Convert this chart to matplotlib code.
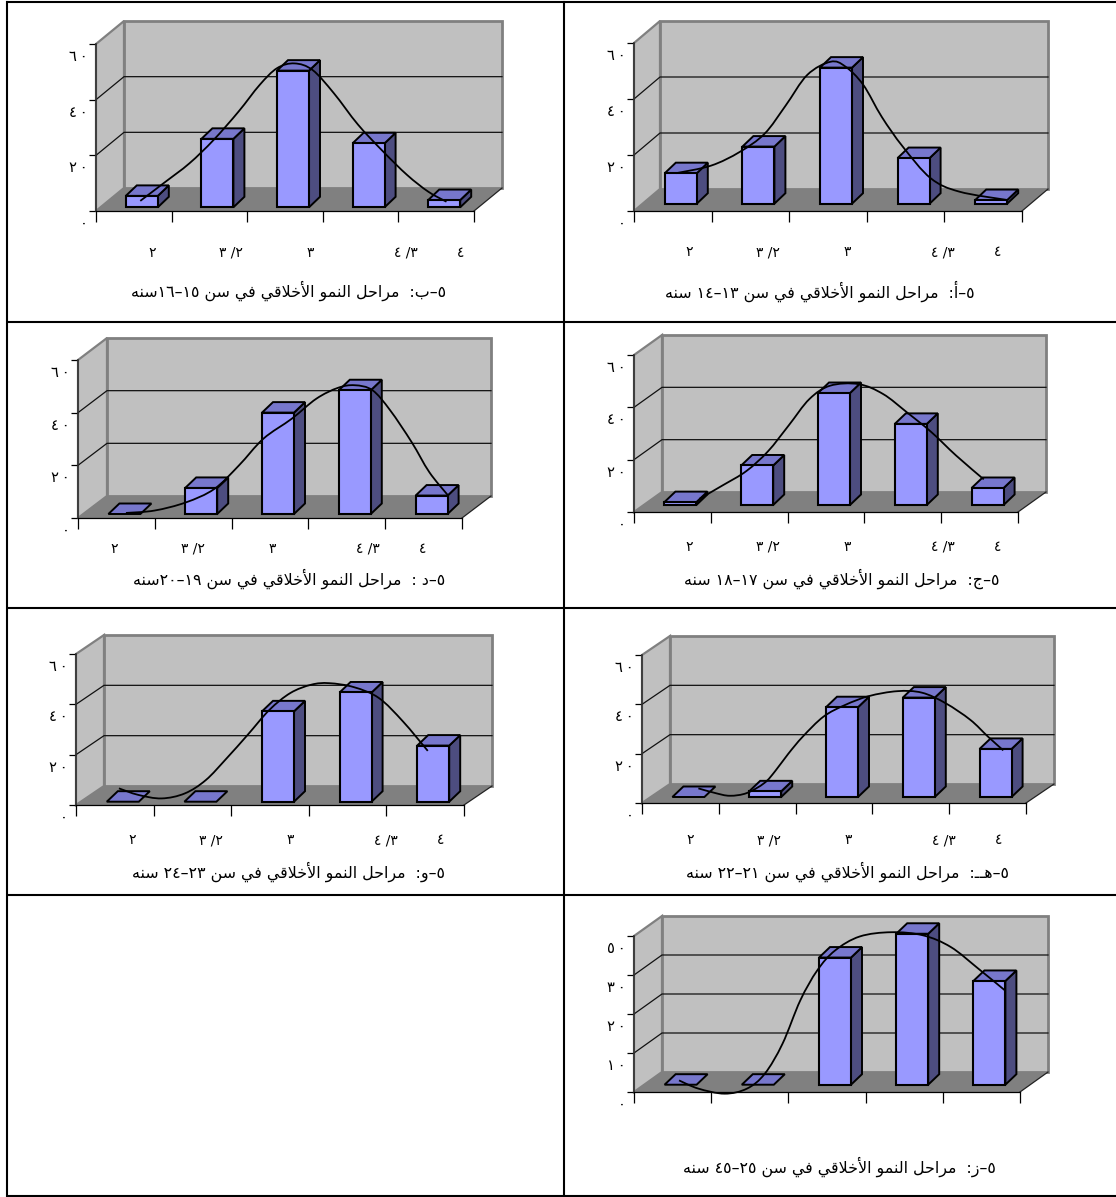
import re
import unicodedata
import numpy as np
from matplotlib import pyplot as plt
from matplotlib.path import Path
from matplotlib.patches import PathPatch
from matplotlib.transforms import ScaledTranslation

W, H = 1116, 1197

categories = ["٢", "٣ /٢", "٣", "٤ /٣", "٤"]
ticks_60 = [0, 20, 40, 60]
ticks_40 = [0, 10, 20, 30, 40]
ticklabels_60 = ["٠", "٢\u2009٠", "٤\u2009٠", "٦\u2009٠"]
ticklabels_40 = ["٠", "١\u2009٠", "٢\u2009٠", "٣\u2009٠", "٥\u2009٠"]

values_a = [10.9, 20.4, 48.6, 16.3, 1.3]
curve_x_a = [.94, 1.39, 1.76, 2.08, 2.35, 2.63, 2.93, 3.12, 3.35, 3.59, 3.86, 4.22, 4.59, 5.21]
curve_y_a = [10.9, 13.6, 18.5, 25, 35, 46, 50.7, 49, 42.5, 31, 20.4, 9.1, 4.3, 1.3]

values_b = [4.1, 24.6, 49.1, 23, 2.6]
curve_x_b = [.98, 1.3, 1.63, 1.95, 2.28, 2.56, 2.79, 3.02, 3.26, 3.54, 3.86, 4.19, 4.51, 4.79, 5.03]
curve_y_b = [2.3, 8.9, 15.8, 24.2, 34.4, 44, 50, 51.7, 49.3, 41, 29.7, 20.1, 11.6, 5.6, 2]

values_c = [1.1, 15.1, 42.8, 31, 6.5]
curve_x_c = [1.25, 1.55, 1.86, 2.14, 2.41, 2.68, 2.95, 3.32, 3.64, 3.95, 4.27, 4.59, 4.95]
curve_y_c = [2.4, 7.5, 13, 20.5, 30.4, 40.5, 45.6, 46.2, 42.4, 35.4, 27.8, 18.9, 9.8]

values_d = [0, 9.9, 38.5, 47, 7]
curve_x_d = [1.02, 1.39, 1.8, 2.17, 2.49, 2.81, 3.18, 3.5, 3.78, 4, 4.23, 4.46, 4.74, 4.97, 5.21]
curve_y_d = [.4, 1.3, 4.4, 9.5, 18.4, 28.6, 36.2, 43.8, 47.9, 48.9, 47, 39.4, 27.3, 15.9, 7.2]

values_e = [0, 2.3, 36.4, 40.3, 19.5]
curve_x_e = [1.13, 1.35, 1.54, 1.76, 1.99, 2.13, 2.3, 2.49, 2.76, 3.04, 3.35, 3.72, 4.04, 4.35, 4.67, 4.9, 5.1]
curve_y_e = [3.5, 1.6, .5, 1.6, 5.7, 10.5, 17.5, 24.5, 32.6, 37.3, 40.9, 42.9, 42.3, 38, 31.3, 24.5, 18.9]

values_f = [0, 0, 35.9, 43.4, 22.3]
curve_x_f = [.95, 1.2, 1.5, 1.8, 2.07, 2.34, 2.61, 2.89, 3.16, 3.43, 3.66, 3.98, 4.3, 4.61, 4.93]
curve_y_f = [5.3, 2.7, 1.3, 3.3, 8.6, 17.3, 26.6, 36.5, 43.2, 46.5, 47.1, 45.5, 41.2, 31.9, 20.2]

values_g = [0, 0, 32.6, 38.7, 26.6]
curve_x_g = [.98, 1.23, 1.57, 1.86, 2.09, 2.32, 2.55, 2.77, 3, 3.32, 3.73, 4.14, 4.5, 4.86, 5.2]
curve_y_g = [1.1, -1, -2.3, -1, 2.8, 10.5, 21.6, 29.3, 34.4, 38, 39.1, 38.3, 35.3, 29.7, 24.2]

caption_a = "٥–أ:  مراحل النمو الأخلاقي في سن ١٣–١٤ سنه"
caption_b = "٥–ب:  مراحل النمو الأخلاقي في سن ١٥–١٦سنه"
caption_c = "٥–ج:  مراحل النمو الأخلاقي في سن ١٧–١٨ سنه"
caption_d = "٥–د :  مراحل النمو الأخلاقي في سن ١٩–٢٠سنه"
caption_e = "٥–هــ:  مراحل النمو الأخلاقي في سن ٢١–٢٢ سنه"
caption_f = "٥–و:  مراحل النمو الأخلاقي في سن ٢٣–٢٤ سنه"
caption_g = "٥–ز:  مراحل النمو الأخلاقي في سن ٢٥–٤٥ سنه"

RIGHT_ONLY = "اأدذرزو"


def is_arabic(c):
    return "\u0621" <= c <= "\u064a"


# matplotlib does no arabic shaping, so pick the presentation forms here
def shape(s):
    out = []
    i = 0
    while i < len(s):
        c = s[i]
        prev = s[i - 1] if i > 0 else " "
        nxt = s[i + 1] if i + 1 < len(s) else " "
        left = is_arabic(prev) and prev not in RIGHT_ONLY
        if c == "ل" and nxt in "اأ":
            if nxt == "ا":
                out.append("\ufefc" if left else "\ufefb")
            else:
                out.append("\ufef8" if left else "\ufef7")
            i += 2
            continue
        if is_arabic(c) and c != "ـ":
            right = is_arabic(nxt) and c not in RIGHT_ONLY
            if left and right:
                form = "MEDIAL"
            elif left:
                form = "FINAL"
            elif right:
                form = "INITIAL"
            else:
                form = "ISOLATED"
            out.append(unicodedata.lookup(unicodedata.name(c) + " " + form + " FORM"))
        else:
            out.append(c)
        i += 1
    runs = re.findall(r"[٠-٩]+|.", "".join(out))
    return "".join(runs[::-1])


def smooth_path(xs, ys):
    pts = np.column_stack([xs, ys])
    verts = [pts[0]]
    codes = [Path.MOVETO]
    for i in range(len(pts) - 1):
        p0 = pts[max(i - 1, 0)]
        p3 = pts[min(i + 2, len(pts) - 1)]
        verts += [pts[i] + (pts[i + 1] - p0) / 6, pts[i + 1] - (p3 - pts[i]) / 6, pts[i + 1]]
        codes += [Path.CURVE4] * 3
    return Path(verts, codes)


fig = plt.figure(figsize=(W / 100, H / 100), dpi=100)

bg = fig.add_axes([0, 0, 1, 1])
bg.set_xlim(0, W)
bg.set_ylim(H, 0)
bg.axis("off")
for y in [2, 322, 608, 895, 1196]:
    bg.plot([6, W], [y, y], color="black", lw=1.5, solid_capstyle="butt")
bg.plot([6.5, 6.5], [2, 1196], color="black", lw=1.5)
bg.plot([563.5, 563.5], [2, 1196], color="black", lw=1.5)

# x0, x1, ytop, ybottom, depth x, depth y, bar lift, first label x, label y, caption right, caption y
panels = [
    (values_a, curve_x_a, curve_y_a, caption_a, 60, (634, 1022, 43, 211, 26, 22, 7.3, 689, 252, 975, 291)),
    (values_b, curve_x_b, curve_y_b, caption_b, 60, (96, 474, 44, 211, 28, 23, 3.7, 152, 253, 446, 291)),
    (values_c, curve_x_c, curve_y_c, caption_c, 60, (634, 1018, 355, 512, 28, 20, 7, 689, 547, 999, 579)),
    (values_d, curve_x_d, curve_y_d, caption_d, 60, (78, 462, 360, 518, 29, 22, 4, 114, 549, 445, 579)),
    (values_e, curve_x_e, curve_y_e, caption_e, 60, (642, 1026, 655, 803, 28, 19, 6, 690, 840, 1009, 872)),
    (values_f, curve_x_f, curve_y_f, caption_f, 60, (76, 464, 654, 805, 28, 19, 3.3, 132, 840, 445, 872)),
    (values_g, curve_x_g, curve_y_g, caption_g, 40, (634, 1020, 936, 1092, 28, 20, 7.3, None, None, 996, 1167)),
]
label_steps = [0, 79, 158, 254, 309]

for vals, cx, cy, caption, ymax, box in panels:
    x0, x1, y0, y1, dpx, dpy, lift, lab_x, lab_y, cap_x, cap_y = box
    ax = fig.add_axes([x0 / W, 1 - y1 / H, (x1 - x0) / W, (y1 - y0) / H])
    ax.patch.set_visible(False)
    ax.set_xlim(0, 5)
    ax.set_ylim(0, ymax)
    ux = 5 / (x1 - x0)
    uy = ymax / (y1 - y0)
    dx = dpx * ux
    dy = dpy * uy

    # walls and floor
    ax.fill([0, dx, dx, 0], [0, dy, ymax + dy, ymax], facecolor="#c0c0c0", edgecolor="#808080", lw=1.6, clip_on=False, zorder=1)
    ax.fill([dx, 5 + dx, 5 + dx, dx], [dy, dy, ymax + dy, ymax + dy], facecolor="#c0c0c0", edgecolor="#808080", lw=2, clip_on=False, zorder=1)
    ticks = ticks_60 if ymax == 60 else ticks_40
    tlabels = ticklabels_60 if ymax == 60 else ticklabels_40
    for t in ticks[1:-1]:
        ax.plot([0, dx, 5 + dx], [t, t + dy, t + dy], color="#111111", lw=0.9, clip_on=False, zorder=1.5)
    ax.fill([0, 5, 5 + dx, dx], [0, 0, dy, dy], facecolor="#808080", edgecolor="none", clip_on=False, zorder=2)
    ax.plot([5, 5 + dx], [0, dy], color="#222222", lw=0.9, clip_on=False, zorder=2)

    # bars
    pos = np.arange(5) + 0.5 + 8 * ux
    bw = 32 * ux
    base = lift * uy
    bdx = 11 * ux
    bdy = 10.5 * uy
    for p, v in zip(pos, vals):
        r = p + bw / 2
        l = p - bw / 2
        top = base + v
        if v > 0:
            ax.fill([r, r + bdx, r + bdx, r], [base, base + bdy, top + bdy, top], facecolor="#4d4d80", edgecolor="black", lw=1.4, clip_on=False, zorder=3)
        ax.fill([l, r, r + bdx, l + bdx], [top, top, top + bdy, top + bdy], facecolor="#7777cc", edgecolor="black", lw=1.4, clip_on=False, zorder=3)
    heights = [v if v > 0 else np.nan for v in vals]
    ax.bar(pos, heights, bw, bottom=base, color="#9999ff", edgecolor="black", lw=1.5, clip_on=False, zorder=3.5)

    # hand drawn curve, same scale as the bars
    curve_x = np.array(cx) - 0.5 + 8 * ux
    curve_y = np.array(cy) + base
    ax.add_patch(PathPatch(smooth_path(curve_x, curve_y), fill=False, edgecolor="black", lw=1.3, clip_on=False, zorder=4))

    ax.spines["top"].set_visible(False)
    ax.spines["right"].set_visible(False)
    ax.spines["left"].set_color("#333333")
    ax.spines["left"].set_linewidth(1.2)
    ax.spines["bottom"].set_linewidth(0.9)
    ax.set_xticks(range(6))
    ax.set_xticklabels([])
    ax.set_yticks(ticks)
    ax.set_yticklabels(tlabels, fontsize=10.5, va="top")
    ax.tick_params(axis="x", length=8, width=0.9)
    ax.tick_params(axis="y", length=5, width=0.9, pad=1)
    # labels sit a little under their ticks in the original
    shift = ScaledTranslation(0, -3.5 / 72, fig.dpi_scale_trans)
    for lab in ax.get_yticklabels():
        lab.set_transform(lab.get_transform() + shift)

    if lab_x is not None:
        for name, step in zip(categories, label_steps):
            bg.text(lab_x + step, lab_y, name, fontsize=10, ha="center", va="center")
    bg.text(cap_x, cap_y, shape(caption), fontsize=11.4, ha="right", va="center")

plt.savefig("out.png", dpi=100)
